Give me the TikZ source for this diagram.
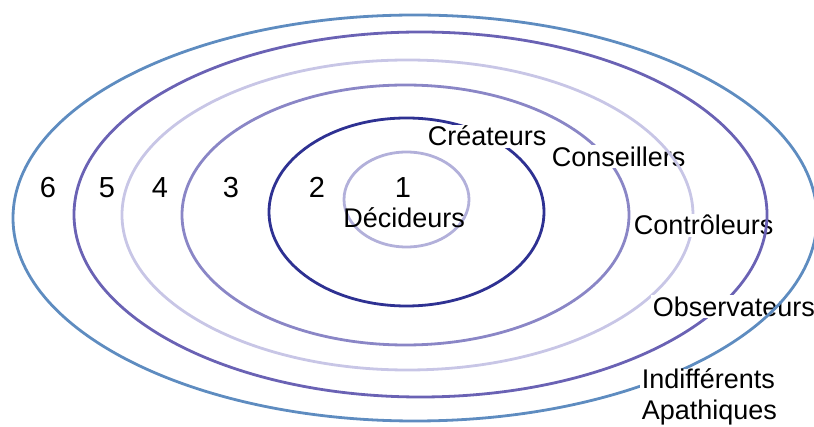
\documentclass[tikz,border=0pt]{standalone}
\usepackage{fontspec}
\setmainfont{Liberation Sans}
\usepackage{tikz}

\definecolor{ringone}{RGB}{178,176,218}
\definecolor{ringtwo}{RGB}{46,49,146}
\definecolor{ringthree}{RGB}{138,134,198}
\definecolor{ringfour}{RGB}{200,198,230}
\definecolor{ringfive}{RGB}{106,98,180}
\definecolor{ringsix}{RGB}{94,140,192}

\begin{document}
\begin{tikzpicture}[x=1pt, y=-1pt, line width=2.8pt,
    digit/.style={anchor=base, inner sep=0pt, font=\fontsize{29}{32}\selectfont},
    role/.style={anchor=base west, inner sep=1.5pt, fill=white, align=left, font=\fontsize{27}{31}\selectfont}]

    \useasboundingbox (0,0) rectangle (814,427);

    \draw[ringone] (406.5,199.5) ellipse [x radius=62.5, y radius=47.5];
    \draw[ringtwo] (406.5,212) ellipse [x radius=137.5, y radius=94];
    \node[role] (crea) at (425,146) {Créateurs};
    \draw[ringthree] (405.5,215) ellipse [x radius=223.5, y radius=130];
    \node[role] (cons) at (549,166.5) {Conseillers};
    \draw[ringfour] (407.5,215) ellipse [x radius=285.5, y radius=155];
    \node[role] (ctrl) at (631,235) {Contrôleurs};
    \draw[ringfive] (420.5,214.5) ellipse [x radius=346.5, y radius=182.5];
    \node[role] (obs) at (650,316.5) {Observateurs};
    \draw[ringsix] (415,218) ellipse [x radius=402, y radius=203];
    % base anchor of a two-line node sits on its last line
    \node[role, inner ysep=0.5pt] (indif) at (639,420) {Indifférents\\Apathiques};

    \node[role, fill=none] (dec) at (340.5,227.5) {Décideurs};

    \node[digit] (n1) at (403,198) {1};
    \node[digit] (n2) at (317,198) {2};
    \node[digit] (n3) at (231,198) {3};
    \node[digit] (n4) at (160,198) {4};
    \node[digit] (n5) at (107,198) {5};
    \node[digit] (n6) at (48,198) {6};
\end{tikzpicture}
\end{document}
